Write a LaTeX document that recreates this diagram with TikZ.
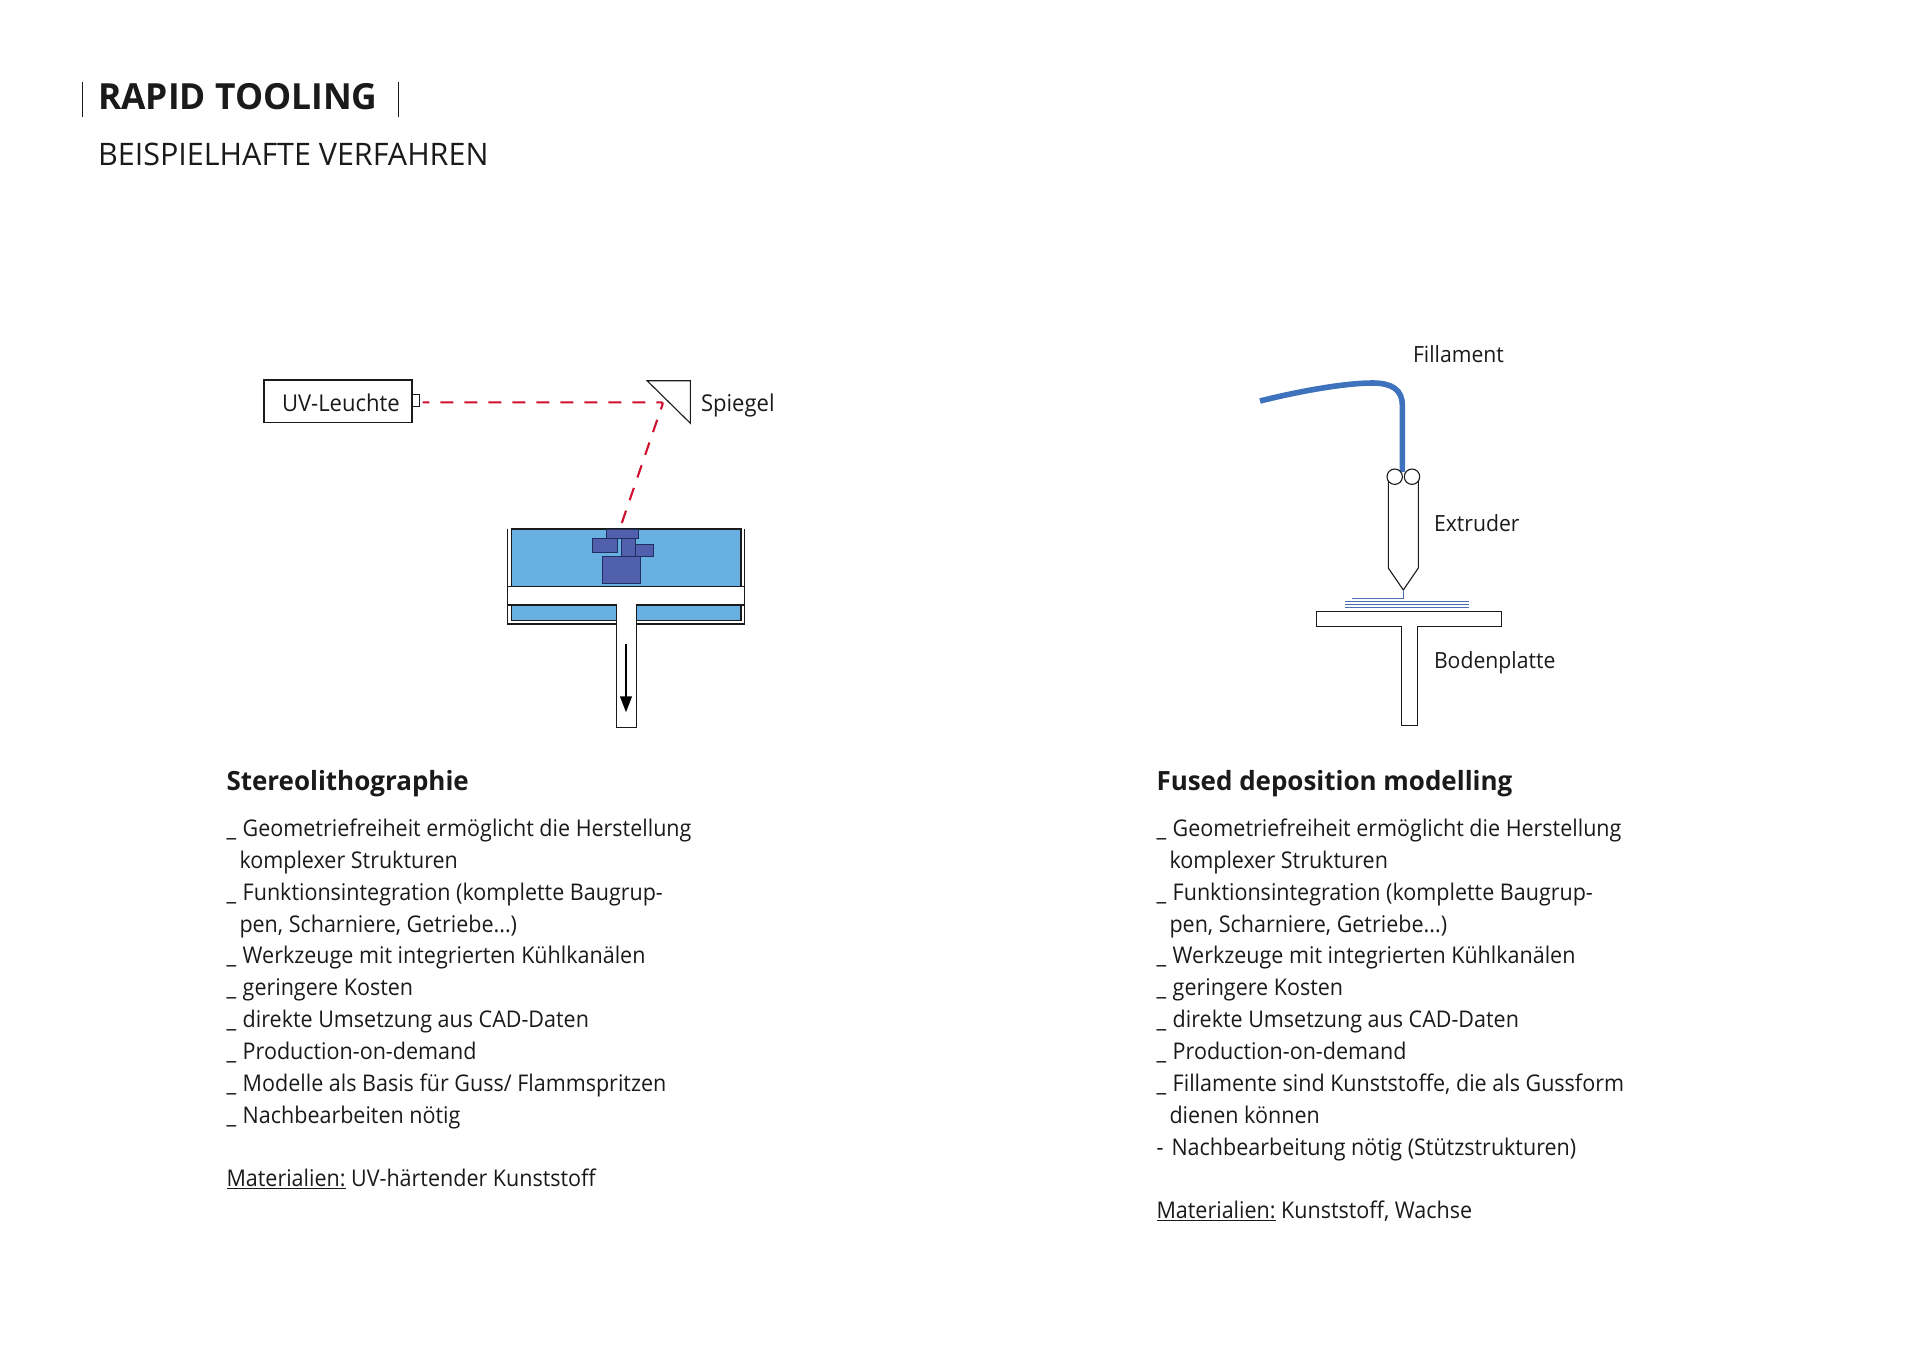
\documentclass[tikz,border=0pt]{standalone}
\usepackage{fontspec}
\usetikzlibrary{arrows.meta}
\setmainfont{Open Sans}[FakeStretch=0.935]
\newfontfamily\titlefont{Open Sans}[FakeStretch=0.983]
\newfontfamily\headfont{Open Sans}[FakeStretch=0.98]
\newfontfamily\lblfont{Open Sans}[FakeStretch=0.95]
\definecolor{ink}{HTML}{1A1A1A}
\definecolor{liquid}{HTML}{69B0E2}
\definecolor{part}{HTML}{5060AC}
\definecolor{partline}{HTML}{1F2F60}
\definecolor{fil}{HTML}{3F72BC}
\definecolor{layerblue}{HTML}{4A6EB4}
\definecolor{ray}{HTML}{D0102F}
\tikzset{
  x=1pt,y=-1pt,
  outline/.style={draw=ink,line width=1.1pt},
  solidpart/.style={draw=partline,fill=part,line width=1pt,inner sep=0pt},
  lbl/.style={anchor=base west,inner sep=0pt,outer sep=0pt,text=ink,font=\lblfont\fontsize{22.3}{23}\selectfont},
  lblbig/.style={lbl,font=\lblfont\fontsize{23.2}{23}\selectfont},
  head/.style={anchor=base west,inner sep=0pt,outer sep=0pt,text=ink,font=\headfont\fontsize{26.5}{26.5}\selectfont\bfseries},
  body/.style={anchor=north west,inner sep=0pt,outer sep=0pt,text=ink,align=left,font=\fontsize{23}{31.84}\selectfont},
  layer/.style={draw=layerblue,line width=1pt},
  roller/.style={circle,draw=ink,fill=white,line width=1.1pt,minimum size=15.4pt,inner sep=0pt},
}
\begin{document}
\begin{tikzpicture}
\useasboundingbox (0,0) rectangle (1920,1358);
% title
\node[anchor=base west,inner sep=0pt,text=ink,font=\titlefont\fontsize{36}{36}\selectfont\bfseries] (title) at (98,109) {RAPID TOOLING};
\node[anchor=base west,inner sep=0pt,text=ink,font=\titlefont\fontsize{31}{31}\selectfont] (sub) at (98,165.5) {BEISPIELHAFTE VERFAHREN};
\draw[draw=ink,line width=1pt] (82,82) -- (82,117) (398,82) -- (398,117);
% SLA tank
\fill[liquid] (511.3,529) rectangle (741,620.3);
\draw[outline] (511.3,529) rectangle (741,620.3);
\draw[outline] (507.8,529) -- (507.8,624) -- (744.2,624) -- (744.2,529);
\node[solidpart,minimum width=32.7pt,minimum height=9pt] (p1) at (622.6,533.5) {};
\node[solidpart,minimum width=25.3pt,minimum height=14pt] (p2) at (604.7,545) {};
\node[solidpart,minimum width=14.4pt,minimum height=18pt] (p3) at (628.5,547) {};
\node[solidpart,minimum width=18pt,minimum height=12pt] (p4) at (644.7,550) {};
\node[solidpart,minimum width=38.3pt,minimum height=27pt] (p5) at (621.2,569.5) {};
% plate and stem
\path[fill=white,draw=ink,line width=1.1pt] (507.8,586.2) -- (744.2,586.2) -- (744.2,605) -- (636.2,605) -- (636.2,727.3) -- (616.4,727.3) -- (616.4,605) -- (507.8,605) -- cycle;
\coordinate (arrS) at (626,644);
\coordinate (arrE) at (626,712.3);
\draw[line width=2pt,-{Triangle[length=16pt,width=11.7pt]}] (arrS) -- (arrE);
% UV lamp
\node[draw=ink,line width=1.1pt,minimum width=148pt,minimum height=42.7pt,inner sep=0pt] (uv) at (338,401.3) {};
\node[lblbig] (uvt) at (282,411) {UV-Leuchte};
\node[draw=ink,line width=1pt,minimum width=7.3pt,minimum height=12pt,inner sep=0pt,anchor=west] (tip) at (412,400) {};
% mirror
\draw[outline] (647.1,380.7) -- (690.4,380.7) -- (690.4,423.3) -- cycle;
\node[lblbig] (spiegel) at (701,411) {Spiegel};
\coordinate (hit) at (663.2,402.4);
\coordinate (bath) at (620.6,526.5);
\draw[ray,line width=2.1pt,dash pattern=on 13pt off 11pt,dash phase=6.4pt,rounded corners=2pt] (tip.east |- hit) ++(2.4,0) -- (hit) -- (bath);
% FDM
\draw[fil,line width=5.6pt] (1260,401) .. controls (1300,391) and (1345,383) .. (1373,383) .. controls (1392,383) and (1402.3,390) .. (1402.3,405) -- (1402.3,472);
\path[fill=white,draw=ink,line width=1.1pt] (1388.3,480) -- (1388.3,568) -- (1403.3,590) -- (1418.3,568) -- (1418.3,480);
\node[roller] (r1) at (1394.7,476.7) {};
\node[roller] (r2) at (1412,476.7) {};
\draw[fill=white,draw=ink,line width=1.1pt] (1316.7,611.7) -- (1501.7,611.7) -- (1501.7,626.7) -- (1417.2,626.7) -- (1417.2,725.3) -- (1401.7,725.3) -- (1401.7,626.7) -- (1316.7,626.7) -- cycle;
\draw[layer] (1403,590) -- (1403,598.3) -- (1352,598.3);
\draw[layer] (1345.3,601.7) -- (1469,601.7);
\draw[layer] (1345.3,604.5) -- (1469,604.5);
\draw[layer] (1345.3,607.4) -- (1469,607.4);
\node[lbl] (fl) at (1413,362.8) {Fillament};
\node[lbl] (ex) at (1434,531.8) {Extruder};
\node[lbl] (bp) at (1434,668.4) {Bodenplatte};
% headings
\node[head] (h1) at (226.5,790) {Stereolithographie};
\node[head] (h2) at (1156.5,790) {Fused deposition modelling};
% bodies
\node[body] (b1) at (226.5,819) {\_\hspace{1pt} Geometriefreiheit ermöglicht die Herstellung\\
\hspace*{13pt}komplexer Strukturen\\
\_\hspace{1pt} Funktionsintegration (komplette Baugrup-\\
\hspace*{13pt}pen, Scharniere, Getriebe...)\\
\_\hspace{1pt} Werkzeuge mit integrierten Kühlkanälen\\
\_\hspace{1pt} geringere Kosten\\
\_\hspace{1pt} direkte Umsetzung aus CAD-Daten\\
\_\hspace{1pt} Production-on-demand\\
\_\hspace{1pt} Modelle als Basis für Guss/ Flammspritzen\\
\_\hspace{1pt} Nachbearbeiten nötig\\[31.84pt]
\underline{Materialien:} UV-härtender Kunststoff};
\node[body] (b2) at (1156.5,819) {\_\hspace{1pt} Geometriefreiheit ermöglicht die Herstellung\\
\hspace*{13pt}komplexer Strukturen\\
\_\hspace{1pt} Funktionsintegration (komplette Baugrup-\\
\hspace*{13pt}pen, Scharniere, Getriebe...)\\
\_\hspace{1pt} Werkzeuge mit integrierten Kühlkanälen\\
\_\hspace{1pt} geringere Kosten\\
\_\hspace{1pt} direkte Umsetzung aus CAD-Daten\\
\_\hspace{1pt} Production-on-demand\\
\_\hspace{1pt} Fillamente sind Kunststoffe, die als Gussform\\
\hspace*{13pt}dienen können\\
-\hspace{2.5pt} Nachbearbeitung nötig (Stützstrukturen)\\[31.84pt]
\underline{Materialien:} Kunststoff, Wachse};
\end{tikzpicture}
\end{document}
